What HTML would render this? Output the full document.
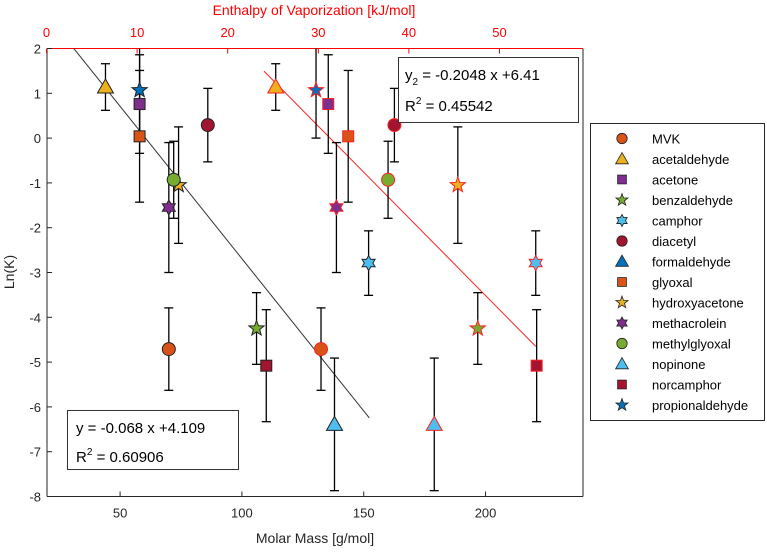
<!DOCTYPE html>
<html><head><meta charset="utf-8"><style>
body{margin:0;background:#fff;}
svg text{font-family:"Liberation Sans",Arial,sans-serif;}
</style></head><body>
<svg id="chart" width="767" height="548" xmlns="http://www.w3.org/2000/svg"></svg>
<script>
const names=["MVK","acetaldehyde","acetone","benzaldehyde","camphor","diacetyl","formaldehyde","glyoxal","hydroxyacetone","methacrolein","methylglyoxal","nopinone","norcamphor","propionaldehyde"];
const molarMass=[70,44,58,106,152,86,30,58,74,70,72,138,110,58];
const enthalpy=[30.3,25.3,31.1,47.6,54.0,38.4,null,33.3,45.4,32.0,37.7,42.8,54.1,29.75];
const lnK=[-4.71,1.14,0.76,-4.25,-2.79,0.29,null,0.04,-1.05,-1.55,-0.93,-6.39,-5.08,1.07];
const errK=[0.92,0.52,1.1,0.8,0.72,0.82,null,1.47,1.3,1.45,0.86,1.48,1.25,1.07];
const colors=["#D95319","#EDB120","#7E2F8E","#77AC30","#4DBEEE","#A2142F","#0072BD","#D95319","#EDB120","#7E2F8E","#77AC30","#4DBEEE","#A2142F","#0072BD"];
const shapes=["circle","triangle","square","star","hexagram","circle","triangle","square","star","hexagram","circle","triangle","square","star"];
const xTicks=[50,100,150,200];
const topTicks=[0,10,20,30,40,50];
const yTicks=[2,1,0,-1,-2,-3,-4,-5,-6,-7,-8];
const fit1=[-0.068,4.109], fit1Range=[30.9,152.3];
const fit2=[-0.2048,6.41], fit2Range=[24,54];

const L=47,R=583,T=48.5,B=496.5;
const X=m=>L+(m-20)*(R-L)/(240-20);
const XH=h=>46.5+h*9.06;
const Y=v=>T+(2-v)*(B-T)/10;
const svg=document.getElementById('chart');
const NS="http://www.w3.org/2000/svg";
function el(tag,attrs,parent){const e=document.createElementNS(NS,tag);for(const k in attrs)e.setAttribute(k,attrs[k]);(parent||svg).appendChild(e);return e;}
function txt(s,attrs){const e=el('text',attrs);e.textContent=s;return e;}

function marker(shape,cx,cy,fill,stroke,g){
  let e;
  if(shape==='circle') e=el('circle',{cx,cy,r:6.5},g);
  else if(shape==='square') e=el('rect',{x:cx-5.5,y:cy-5.5,width:11,height:11},g);
  else if(shape==='triangle') e=el('polygon',{points:`${cx},${cy-8} ${cx+8},${cy+6} ${cx-8},${cy+6}`},g);
  else if(shape==='star'){let p=[];for(let i=0;i<10;i++){const r=i%2?3.3:8,a=-Math.PI/2+i*Math.PI/5;p.push((cx+r*Math.cos(a)).toFixed(1)+','+(cy+r*Math.sin(a)).toFixed(1));}e=el('polygon',{points:p.join(' ')},g);}
  else {let p=[];for(let i=0;i<12;i++){const r=i%2?4.3:7.5,a=-Math.PI/2+i*Math.PI/6;p.push((cx+r*Math.cos(a)).toFixed(1)+','+(cy+r*Math.sin(a)).toFixed(1));}e=el('polygon',{points:p.join(' ')},g);}
  e.setAttribute('fill',fill);e.setAttribute('stroke',stroke);e.setAttribute('stroke-width','1');
  return e;
}

// axes frame
const ax=el('g',{});


el('rect',{x:L,y:T,width:R-L,height:B-T,fill:'#fff',stroke:'none'},ax);
el('line',{x1:L,y1:T,x2:L,y2:B,stroke:'#262626'},ax);
el('line',{x1:L,y1:B,x2:R,y2:B,stroke:'#262626'},ax);
el('line',{x1:R,y1:T,x2:R,y2:B,stroke:'#262626'},ax);
el('line',{x1:L,y1:T,x2:R,y2:T,stroke:'#ff0000'},ax);
yTicks.forEach(v=>{
  el('line',{x1:L,y1:Y(v),x2:L+5,y2:Y(v),stroke:'#262626'},ax);
  const t=txt(String(v),{x:L-6,y:Y(v)+5,'text-anchor':'end','font-size':13,fill:'#262626'});
  
  
});
xTicks.forEach(v=>{
  el('line',{x1:X(v),y1:B,x2:X(v),y2:B-5,stroke:'#262626'},ax);
  const t=txt(String(v),{x:X(v),y:B+21,'text-anchor':'middle','font-size':13,fill:'#262626'});
  
  
});
topTicks.forEach(v=>{
  el('line',{x1:XH(v),y1:T,x2:XH(v),y2:T+5,stroke:'#ff0000'},ax);
  const t=txt(String(v),{x:XH(v),y:37,'text-anchor':'middle','font-size':13,fill:'#ff0000'});
  
  
});
let t=txt('Molar Mass [g/mol]',{x:315,y:543,'text-anchor':'middle','font-size':14,fill:'#262626'});


t=txt('Enthalpy of Vaporization [kJ/mol]',{x:314,y:15,'text-anchor':'middle','font-size':14,fill:'#ff0000'});


t=txt('Ln(K)',{x:14,y:272,'text-anchor':'middle','font-size':14,fill:'#262626',transform:'rotate(-90 14 272)'});



// fit lines
let fl=el('line',{x1:X(fit1Range[0]),y1:Y(fit1[0]*fit1Range[0]+fit1[1]),x2:X(fit1Range[1]),y2:Y(fit1[0]*fit1Range[1]+fit1[1]),stroke:'#333','stroke-width':1});


fl=el('line',{x1:XH(fit2Range[0]),y1:Y(fit2[0]*fit2Range[0]+fit2[1]),x2:XH(fit2Range[1]),y2:Y(fit2[0]*fit2Range[1]+fit2[1]),stroke:'#ff2020','stroke-width':1});



// error bars
function errbar(x,v,e){
  const g=el('g',{});
  
  
  const y1=Math.max(Y(v+e),T),y2=Math.min(Y(v-e),B);
  el('line',{x1:x,y1,x2:x,y2,stroke:'#000','stroke-width':1.3},g);
  if(Y(v+e)>=T) el('line',{x1:x-4.5,y1:Y(v+e),x2:x+4.5,y2:Y(v+e),stroke:'#000','stroke-width':1.3},g);
  if(Y(v-e)<=B) el('line',{x1:x-4.5,y1:Y(v-e),x2:x+4.5,y2:Y(v-e),stroke:'#000','stroke-width':1.3},g);
}
names.forEach((n,i)=>{
  if(lnK[i]===null) return;
  errbar(X(molarMass[i]),lnK[i],errK[i]);
  if(enthalpy[i]!==null) errbar(XH(enthalpy[i]),lnK[i],errK[i]);
});
names.forEach((n,i)=>{
  if(lnK[i]===null) return;
  const m=marker(shapes[i],X(molarMass[i]),Y(lnK[i]),colors[i],'#222');
  
  
  if(enthalpy[i]!==null){
    const m2=marker(shapes[i],XH(enthalpy[i]),Y(lnK[i]),colors[i],'#ff2020');
    
    
  }
});

// equation boxes
let bx=el('g',{});


el('rect',{x:398.5,y:57.5,width:180,height:65,fill:'#fff',stroke:'#333'},bx);
let e=el('text',{x:405,y:80,'font-size':15,fill:'#000'},bx);
e.innerHTML='y<tspan font-size="10" dy="5">2</tspan><tspan dy="-5"> = -0.2048 x +6.41</tspan>';
e=el('text',{x:405,y:111,'font-size':15,fill:'#000'},bx);
e.innerHTML='R<tspan font-size="10" dy="-7">2</tspan><tspan dy="7"> = 0.45542</tspan>';
bx=el('g',{});


el('rect',{x:67.5,y:410.5,width:171,height:59,fill:'#fff',stroke:'#333'},bx);
e=el('text',{x:76,y:433,'font-size':15,fill:'#000'},bx);
e.textContent='y = -0.068 x +4.109';
e=el('text',{x:76,y:462,'font-size':15,fill:'#000'},bx);
e.innerHTML='R<tspan font-size="10" dy="-7">2</tspan><tspan dy="7"> = 0.60906</tspan>';

// legend
const lg=el('g',{});


el('rect',{x:590.5,y:123.5,width:174,height:297,fill:'#fff',stroke:'#262626'},lg);
names.forEach((n,i)=>{
  const g=el('g',{},lg);
  
  
  const y=138.5+i*20.5;
  marker(shapes[i],622,y,colors[i],'#222',g).setAttribute('transform',`translate(622 ${y}) scale(0.8) translate(-622 ${-y})`);
  const tt=el('text',{x:652,y:y+5,'font-size':13,fill:'#000'},g);
  tt.textContent=n;
});
</script>
</body></html>
